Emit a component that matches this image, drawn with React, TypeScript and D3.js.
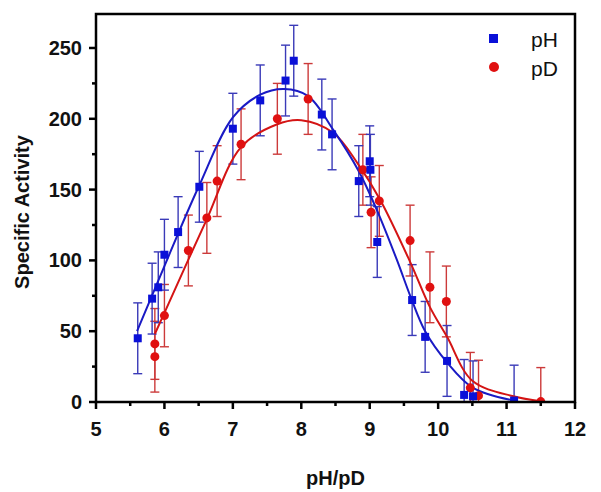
import React from "react";
import * as d3 from "d3";

// ---- data ----
const phX = [5.61, 5.82, 5.91, 6.0, 6.2, 6.51, 7.0, 7.4, 7.77, 7.89, 8.3, 8.45, 8.84, 9.0, 9.01, 9.11, 9.62, 9.81, 10.13, 10.38, 10.51, 11.11];
const phY = [45, 73, 81, 104, 120, 152, 193, 213, 227, 241, 203, 189, 156, 170, 164, 113, 72, 46, 29, 5, 4, 1];
const phErr = [25, 25, 25, 25, 25, 25, 25, 25, 25, 25, 25, 25, 25, 25, 25, 25, 25, 25, 25, 25, 25, 25];

const pdX = [5.86, 5.86, 6.0, 6.35, 6.62, 6.77, 7.12, 7.65, 8.1, 8.9, 9.02, 9.14, 9.59, 9.88, 10.12, 10.47, 10.59, 11.5];
const pdY = [41, 32, 61, 107, 130, 156, 182, 200, 214, 164, 134, 142, 114, 81, 71, 10, 4.5, 0.3];
const pdErr = [25, 25, 22, 25, 25, 25, 25, 25, 25, 25, 25, 25, 25, 25, 25, 25, 25, 24];

// fitted curves
const phFitX = [5.6, 6.0, 6.5, 7.0, 7.4, 7.75, 8.1, 8.47, 8.84, 9.11, 9.4, 9.6, 9.81, 10.13, 10.51, 11.11];
const phFitY = [50, 96, 152, 201, 217, 221, 216, 192, 163, 135, 100, 74, 50, 28, 10, 1];
const pdFitX = [5.86, 6.0, 6.6, 7.12, 7.64, 8.0, 8.47, 8.83, 9.15, 9.59, 9.88, 10.13, 10.5, 11.1, 11.5];
const pdFitY = [48, 63, 127, 180, 196, 199, 190, 168, 143, 99, 67, 46, 15, 4, 0.5];

const xTicks = [5, 6, 7, 8, 9, 10, 11, 12];
const xMinor = [5.5, 6.5, 7.5, 8.5, 9.5, 10.5, 11.5];
const yTicks = [0, 50, 100, 150, 200, 250];
const yMinor = [25, 75, 125, 175, 225];

const W = 601, H = 492;
const L = 96, R = 575, T = 14, B = 402;

const BLUE = "#0a10d8";
const BLUE_LINE = "#1a1ac4";
const BLUE_ERR = "#3a3ab8";
const RED = "#e01010";
const RED_LINE = "#d41414";
const RED_ERR = "#cc3a3a";

export default function App() {
  const x = d3.scaleLinear().domain([5, 12]).range([L, R]);
  const y = d3.scaleLinear().domain([0, 274]).range([B, T]);
  const line = d3
    .line<[number, number]>()
    .x((d) => x(d[0]))
    .y((d) => y(d[1]))
    .curve(d3.curveCatmullRom.alpha(0.5));
  const phFit = line(phFitX.map((v, i) => [v, phFitY[i]] as [number, number])) || "";
  const pdFit = line(pdFitX.map((v, i) => [v, pdFitY[i]] as [number, number])) || "";
  const cap = 4.5;
  const font = "Liberation Sans, Arial, sans-serif";

  const errBars = (xs: number[], ys: number[], es: number[], color: string, key: string) =>
    xs.map((v, i) => {
      const cx = x(v);
      const y1 = y(ys[i] + es[i]);
      const y2 = y(ys[i] - es[i]);
      return (
        <g key={key + i} stroke={color} strokeWidth={1.4}>
          <line x1={cx} x2={cx} y1={y1} y2={y2} />
          <line x1={cx - cap} x2={cx + cap} y1={y1} y2={y1} />
          <line x1={cx - cap} x2={cx + cap} y1={y2} y2={y2} />
        </g>
      );
    });

  return (
    <svg
      width={W}
      height={H}
      style={{ position: "absolute", left: 0, top: 0, background: "#fff" }}
      fontFamily={font}
    >
      <defs>
        <clipPath id="plotClip">
          <rect x={L} y={T} width={R - L} height={B - T} />
        </clipPath>
      </defs>
      <rect x={0} y={0} width={W} height={H} fill="#fff" />
      <g clipPath="url(#plotClip)">
        {errBars(pdX, pdY, pdErr, RED_ERR, "pe")}
        {errBars(phX, phY, phErr, BLUE_ERR, "he")}
        <path d={pdFit} fill="none" stroke={RED_LINE} strokeWidth={2} />
        <path d={phFit} fill="none" stroke={BLUE_LINE} strokeWidth={2} />
        {pdX.map((v, i) => (
          <circle key={"pc" + i} cx={x(v)} cy={y(pdY[i])} r={4.5} fill={RED} />
        ))}
        {phX.map((v, i) => (
          <rect key={"hr" + i} x={x(v) - 4} y={y(phY[i]) - 4} width={8} height={8} fill={BLUE} />
        ))}
      </g>
      {/* frame */}
      <rect x={L} y={T} width={R - L} height={B - T} fill="none" stroke="#000" strokeWidth={2.5} />
      {/* x ticks */}
      {xTicks.map((t) => (
        <g key={"xt" + t}>
          <line x1={x(t)} x2={x(t)} y1={B} y2={B + 7} stroke="#000" strokeWidth={2.5} />
          <text x={x(t)} y={436} textAnchor="middle" fontSize={20} fontWeight="bold" fill="#111">
            {t}
          </text>
        </g>
      ))}
      {xMinor.map((t) => (
        <line key={"xm" + t} x1={x(t)} x2={x(t)} y1={B} y2={B + 4} stroke="#000" strokeWidth={2.5} />
      ))}
      {/* y ticks */}
      {yTicks.map((t) => (
        <g key={"yt" + t}>
          <line x1={L - 7} x2={L} y1={y(t)} y2={y(t)} stroke="#000" strokeWidth={2.5} />
          <text x={82} y={y(t) + 7} textAnchor="end" fontSize={20} fontWeight="bold" fill="#111">
            {t}
          </text>
        </g>
      ))}
      {yMinor.map((t) => (
        <line key={"ym" + t} x1={L - 4} x2={L} y1={y(t)} y2={y(t)} stroke="#000" strokeWidth={2.5} />
      ))}
      {/* axis titles */}
      <text x={(L + R) / 2} y={485} textAnchor="middle" fontSize={20} fontWeight="bold" fill="#111">
        pH/pD
      </text>
      <text
        transform={`translate(29, ${(T + B) / 2 + 4}) rotate(-90)`}
        textAnchor="middle"
        fontSize={20}
        fontWeight="bold"
        fill="#111"
      >
        Specific Activity
      </text>
      {/* legend */}
      <rect x={489} y={34} width={9} height={9} fill={BLUE} />
      <text x={531} y={47} fontSize={21} fill="#111">pH</text>
      <circle cx={494} cy={67} r={5} fill={RED} />
      <text x={531} y={76} fontSize={21} fill="#111">pD</text>
    </svg>
  );
}
